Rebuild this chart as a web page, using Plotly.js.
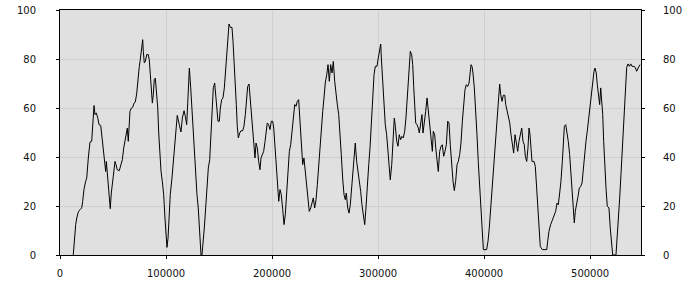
<!DOCTYPE html>
<html>
<head>
<meta charset="utf-8">
<script src="https://cdn.plot.ly/plotly-3.0.1.min.js"></script>
<style>html,body{margin:0;padding:0;background:#fff;}#chart{width:700px;height:300px;}</style>
</head>
<body>
<div id="chart"></div>
<script>
var xValues = [12500,13500,14800,15800,17300,18900,20500,21400,22600,24200,25200,26700,28300,29900,30800,32100,33000,34200,35600,36800,38400,39300,40800,42200,43100,43700,44600,45900,46900,47400,48400,49700,50900,51900,52800,54000,55900,57300,58800,60100,61600,62900,63500,64400,65400,66000,67300,68600,69800,71000,72300,73600,74800,75700,77100,78000,78600,79500,80500,81800,83300,84200,85200,86100,87100,88000,88900,89900,90800,92200,93100,94000,95300,96500,97800,99000,100000,100900,101900,102800,104000,105600,107200,108500,109700,110600,112500,114100,115400,117000,118200,119500,120700,122000,123300,124200,125400,126700,128000,129200,130400,131400,132300,133000,133900,134900,136100,137400,138700,139900,141200,142100,143400,144600,145900,146900,147800,149000,150300,151200,152500,153700,155000,156300,157500,158500,159400,160600,162200,163200,164400,165300,166300,167200,168200,169500,170700,172300,173500,174800,176100,177000,178300,179200,180400,181800,183000,183900,184900,186100,187400,188600,189600,190800,192100,193400,194300,195500,196800,198100,199300,200600,201600,202800,203700,205000,206300,207500,208700,210100,211300,212500,213800,215000,216300,217600,218800,220000,221400,222600,223800,225100,226400,227600,228900,230100,231400,232700,233900,235100,236500,237700,238900,240200,241500,242700,244000,245200,246500,247800,249000,250200,251600,252800,254000,255300,256600,257800,259100,260300,261500,262900,264100,265300,266600,267900,269100,270000,271400,272600,273800,275100,276400,277600,278500,279800,281100,282300,283600,284800,286100,287400,288600,289800,291200,292400,293600,294900,296200,297400,299000,300200,301500,302500,303100,304400,305600,306800,308100,309400,310600,311500,312900,314100,315300,316300,317600,318800,320000,321300,322600,323800,325100,326300,327600,328900,329800,330400,331700,332700,333600,334600,335500,336700,338000,338900,340200,341400,342400,343600,344900,346200,347100,348000,349300,350200,351200,352100,353400,354400,355600,356800,358100,359400,360600,361900,363100,364400,365700,366900,368100,369500,370700,371900,373200,374500,375700,377000,378200,379500,380800,382000,383200,384500,385800,386700,387700,388600,389500,390800,392100,393300,394500,395900,397100,398000,399300,402400,403700,404900,406200,407500,408700,410000,411200,412500,413800,414700,415700,416900,418100,419500,420400,421600,422800,424200,425400,426600,427900,429200,430400,431700,432900,434200,435500,436700,437900,438900,440200,441400,442400,443300,444300,445200,447100,448300,449600,450900,451800,453000,454900,459100,460000,461200,462800,464300,465900,467500,468800,470000,471300,472500,473800,474700,475700,477000,478200,479400,480700,482000,483200,484100,485100,486000,487400,488600,489800,491100,492400,493600,494900,496100,497300,498700,499900,501100,502400,503700,504600,505800,506800,508100,509000,510000,510900,511900,512800,513800,515000,516200,517800,519000,520400,521300,524400,525400,526600,527900,529100,530400,531700,532600,533600,534500,535700,537000,538300,539500,541400,542600,543900,544900,546100,547100];

var yValues = [0,6.9,12.4,15.1,17.6,18.5,19.2,21.9,26.7,30.1,31.4,39.6,46.1,46.4,54.6,61,57.3,58,56,53.2,52.9,49.1,42.3,37.6,34.1,38.2,32.8,26.7,21.9,18.9,25.3,30.1,34.1,38.2,36.9,34.8,34.4,36.9,38.9,43.7,47.1,50.5,51.8,46.4,53.2,58.6,60,60.3,62,62.4,65.7,72.9,77,79.7,84.5,87.9,83.1,78.4,79,81.8,81.8,79.7,73.6,65.4,62,65.4,71.6,72.2,68.2,60,49.8,42.3,34.1,30.1,24.6,15.1,8.3,3.1,6.9,15.1,24.6,31.4,39.6,46.4,53.9,57,53.2,50.2,55.9,58.9,56.6,53.2,64.1,76.3,68.2,61.4,50.5,39.6,32.8,24.6,19.2,12.4,4.2,0,0,4.2,11,19.2,27.3,35.5,38.9,46.4,60,68.2,70.2,64.1,58.6,54.6,54.6,60,63.4,64.1,68.2,76.3,84.5,89.9,94.3,92.9,92.9,87.2,79,69.5,61.4,52.5,47.8,49.8,50.7,50.7,52.5,57.3,64.1,68.8,69.8,65.4,57.3,50.5,43.7,39.6,45.7,43.7,38.2,34.8,39.6,41,42.3,46.4,50.5,53.9,53.2,51.2,54.6,54.6,51.8,43.7,35.5,26,21.9,26.7,24.6,18.5,12.4,16.5,24.6,32.8,42.3,45,50,57.3,61.4,60.7,62.7,63.4,53.2,42.3,36.9,39.6,34.1,28.7,22.6,17.8,19.2,21.2,23.3,19.2,22.6,28.7,36.9,45,53.2,58.6,64.1,70.2,73.6,77.7,70.9,77.7,74.3,79,70.9,65.4,61.6,57.3,50.5,41,31.4,24.6,22.6,25.3,19.2,17.1,20.5,27.3,34.1,42.3,45.7,38.2,34.1,31.4,26,20.5,15.1,12.4,19.2,28.7,36.9,43.7,54.6,65.4,73.6,77,77,80.4,83.8,86.1,80.4,69.5,60,53.2,49.1,42.3,34.1,30.7,36.9,46.4,55.9,52.5,46.4,44.4,49.1,47.1,48.4,47.8,50.5,55.9,65.4,76.3,81.8,83.1,81.8,77.7,68.8,60,53.9,53.2,51.8,49.8,54.6,57.3,49.8,53.2,58.6,64.1,60,54.6,50.5,46.4,42.3,50.5,49.1,43.7,38.2,34.1,42.3,44.4,45,40.3,42.3,45,54.6,53.9,45,35.5,30.1,26.3,30.1,36.9,38.2,41,45.7,54.6,61.4,67.5,69.5,68.8,70.2,73.6,77.7,77,74.3,68.2,60,49.1,38.2,26,17.8,10.3,2.2,2.2,5.6,11,19.2,24.6,32.8,41,49.1,60,68.2,69.8,65.4,62.7,65.2,65.2,61.4,58.6,57.3,53.9,49.1,45,41.6,49.1,46.4,42.3,46.4,49.1,51.8,46.4,45,40.3,38.2,43.7,51.8,49.1,43.7,38.2,38.2,36.2,27.3,19.2,11,3.5,2.2,2.2,5.6,9.7,12.4,14.4,16.5,17.8,21.2,20.5,25.3,30.1,38.2,47.8,52.5,53.2,50.5,46.4,41,32.8,23.3,16.5,13.1,17.8,20.5,23.9,27.3,28,29.4,35.5,42.3,46.4,50.5,55.9,60,65.4,70.9,75,76.3,74.3,69.5,64.1,61.4,68.2,62.7,57.3,46.4,35.5,27.3,19.9,19.2,11,2.9,0,0,5.6,13.7,23.3,32.8,43.7,54.6,62.7,70.9,76.6,78,77,78,77,77,76.6,75,76.3,77,77.7];

var xTickVals = [0, 100000, 200000, 300000, 400000, 500000];
var xTickText = ["0", "100000", "200000", "300000", "400000", "500000"];
var yTickVals = [0, 20, 40, 60, 80, 100];
var yTickText = ["0", "20", "40", "60", "80", "100"];

var tickFont = {family: "DejaVu Sans, sans-serif", size: 10, color: "#111"};

var trace = {
  x: xValues,
  y: yValues,
  type: "scatter",
  mode: "lines",
  line: {color: "#000000", width: 1},
  hoverinfo: "none",
  showlegend: false
};

// empty helper trace so that the right-hand axis (y2) is created and drawn
var rightAxisTrace = {
  x: [],
  y: [],
  type: "scatter",
  mode: "lines",
  yaxis: "y2",
  hoverinfo: "none",
  showlegend: false
};

var layout = {
  width: 700,
  height: 300,
  margin: {l: 60, r: 59, t: 10, b: 45, pad: 0},
  paper_bgcolor: "#ffffff",
  plot_bgcolor: "#e0e0e0",
  showlegend: false,
  xaxis: {
    range: [0, 548000],
    tickmode: "array",
    tickvals: xTickVals,
    ticktext: xTickText,
    showgrid: true,
    gridcolor: "#cfcfcf",
    gridwidth: 1,
    zeroline: false,
    showline: true,
    linecolor: "#000000",
    linewidth: 1,
    mirror: true,
    ticks: "outside",
    ticklen: 3,
    tickcolor: "#000000",
    tickfont: tickFont,
    ticklabelstandoff: 6
  },
  yaxis: {
    range: [0, 100],
    tickmode: "array",
    tickvals: yTickVals,
    ticktext: yTickText,
    showgrid: true,
    gridcolor: "#cfcfcf",
    gridwidth: 1,
    zeroline: false,
    showline: true,
    linecolor: "#000000",
    linewidth: 1,
    mirror: "ticks",
    ticks: "outside",
    ticklen: 3,
    tickcolor: "#000000",
    tickfont: tickFont,
    ticklabelstandoff: 18
  },
  yaxis2: {
    range: [0, 100],
    overlaying: "y",
    side: "right",
    anchor: "x",
    tickmode: "array",
    tickvals: yTickVals,
    ticktext: yTickText,
    showgrid: false,
    zeroline: false,
    showline: true,
    linecolor: "#000000",
    linewidth: 1,
    ticks: "outside",
    ticklen: 3,
    tickcolor: "#000000",
    tickfont: tickFont,
    ticklabelstandoff: 16
  }
};

Plotly.newPlot("chart", [trace, rightAxisTrace], layout, {staticPlot: true, displayModeBar: false});
</script>
</body>
</html>
